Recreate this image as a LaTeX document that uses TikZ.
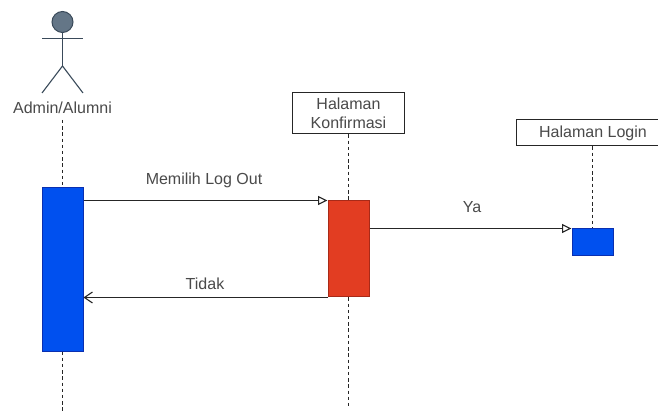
\documentclass[tikz,border=0pt]{standalone}
\usepackage{fontspec}
\setmainfont{Liberation Sans}
\usetikzlibrary{arrows.meta}
\definecolor{txt}{HTML}{4A4A4A}
\definecolor{bluef}{HTML}{0050EF}
\definecolor{blued}{HTML}{0A2FB0}
\definecolor{redf}{HTML}{E23D22}
\definecolor{redd}{HTML}{A82A18}
\definecolor{headf}{HTML}{647687}
\definecolor{headd}{HTML}{3A4A5A}
\tikzset{
  activation/.style={draw=#1, line width=1pt, inner sep=0pt, minimum width=41pt},
  lbl/.style={font=\fontsize{16}{19}\selectfont, text=txt, inner sep=0pt, align=center},
  header/.style={draw=black!85, line width=1pt, fill=white, inner sep=0pt, font=\fontsize{16}{19}\selectfont, text=txt, align=center},
  lifeline/.style={black!85, line width=1pt, dash pattern=on 3.4pt off 2.8pt},
  msg/.style={black!85, line width=1.1pt},
  openhead/.style={-{Triangle[open, fill=white, length=9.5pt, width=9pt, line width=1.1pt]}},
  barbhead/.style={-{Straight Barb[length=8pt, width=11pt, line width=1.1pt]}},
  stick/.style={headd, line width=1.1pt}
}
\begin{document}
\begin{tikzpicture}[x=1pt,y=-1pt]
\useasboundingbox (0,0) rectangle (658,411);
\clip (0,0) rectangle (658,411);
\fill[white] (0,0) rectangle (658,411);
% actor
\node[circle, draw=headd, fill=headf, line width=1pt, minimum size=21pt, inner sep=0pt] (head) at (62.5,22) {};
\coordinate (armL) at (42,38.5);
\coordinate (armR) at (83,38.5);
\coordinate (hip) at (62.5,66);
\coordinate (legL) at (42,93);
\coordinate (legR) at (83,93);
\draw[stick] (head.south) -- (hip);
\draw[stick] (armL) -- (armR);
\draw[stick] (legL) -- (hip) -- (legR);
\node[lbl] (actor) at (62.5,107.5) {Admin/Alumni};
% headers
\node[header, minimum width=112pt, minimum height=41pt] (konf) at (348.5,113.5) {Halaman\\Konfirmasi};
\node[header, minimum width=154pt, minimum height=26pt] (login) at (593,133) {Halaman Login};
% activations
\node[activation=blued, fill=bluef, minimum height=163pt] (a1) at (62.5,269.5) {};
\node[activation=redd, fill=redf, minimum height=96pt] (a2) at (348.5,249) {};
\node[activation=blued, fill=bluef, minimum height=27pt] (a3) at (592.5,242.5) {};
% lifeline ends
\coordinate (actorTop) at (62.5,120);
\coordinate (end1) at (62.5,411);
\coordinate (end2) at (348.5,406);
% lifelines
\draw[lifeline] (actorTop) -- (a1.north);
\draw[lifeline] (a1.south) -- (end1);
\draw[lifeline] (konf.south) -- (a2.north);
\draw[lifeline] (a2.south) -- (end2);
\draw[lifeline] (a3.north |- login.south) -- (a3.north);
% messages
\draw[msg, openhead] (a1.east |- a2.north west) -- (a2.north west);
\draw[msg, openhead] (a2.east |- a3.north west) -- (a3.north west);
\draw[msg, barbhead] (a2.south west) -- (a1.east |- a2.south west);
% labels
\node[lbl] (m1) at (204,180) {Memilih Log Out};
\node[lbl] (m2) at (472,207) {Ya};
\node[lbl] (m3) at (205,283.5) {Tidak};
\end{tikzpicture}
\end{document}
